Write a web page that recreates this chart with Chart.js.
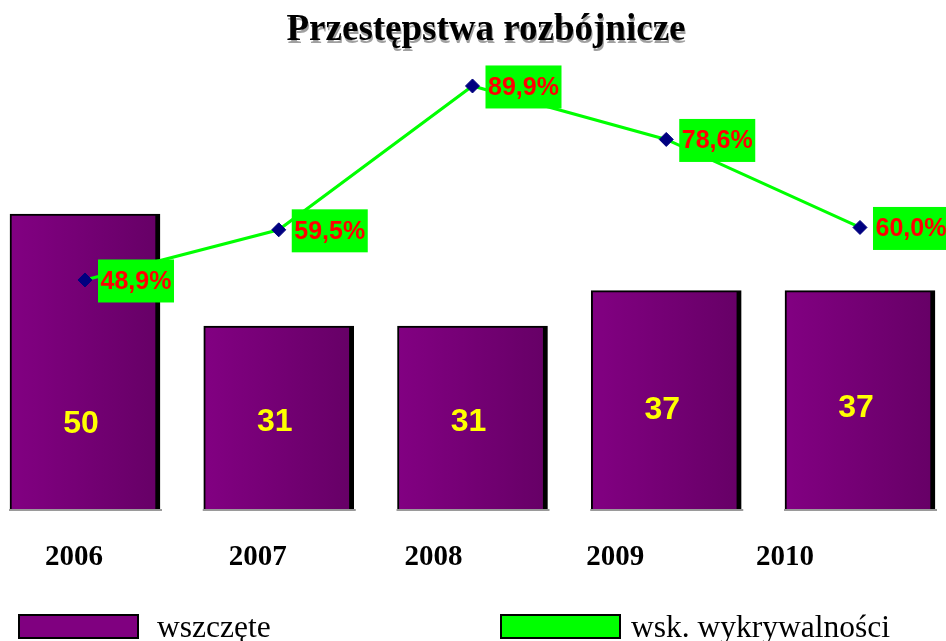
<!DOCTYPE html>
<html>
<head>
<meta charset="utf-8">
<script src="https://cdn.jsdelivr.net/npm/chart.js@4/dist/chart.umd.min.js"></script>
<style>
  html, body { margin: 0; padding: 0; background: #fff; }
  #wrap { width: 946px; height: 641px; position: relative; }
</style>
</head>
<body>
<div id="wrap"><canvas id="cv" width="946" height="641"></canvas></div>
<script>
// data
var years = ['2006', '2007', '2008', '2009', '2010'];
var cases = [50, 31, 31, 37, 37];          // wszczęte
var rates = [48.9, 59.5, 89.9, 78.6, 60.0]; // wsk. wykrywalności (%)

var title = 'Przestępstwa rozbójnicze';
var seriesNames = ['wszczęte', 'wsk. wykrywalności'];

// small layout tweaks (label placement only)
var yearShift = [-12, -22, -40, -52, -76];
var valueLift = [85, 87, 87, 99, 101];

var serif = '"Liberation Serif", "Times New Roman", serif';
var sans = '"Liberation Sans", Arial, sans-serif';

function pct(v) { return v.toFixed(1).replace('.', ',') + '%'; }

function barGradient(ctx) {
  var chart = ctx.chart;
  var xs = chart.scales && chart.scales.x;
  if (!xs || !chart.chartArea) return '#780078';
  var cx = xs.getPixelForValue(ctx.dataIndex);
  var g = chart.ctx.createLinearGradient(cx - 75, 0, cx + 75, 0);
  g.addColorStop(0, '#820082');
  g.addColorStop(1, '#660066');
  return g;
}

var decor = {
  id: 'decor',
  afterDatasetsDraw: function (chart) {
    var c = chart.ctx;
    var bars = chart.getDatasetMeta(1).data;
    var pts = chart.getDatasetMeta(0).data;
    c.save();

    // grey base line under each bar + value labels
    bars.forEach(function (b, i) {
      var half = b.width / 2;
      c.strokeStyle = '#9a9a9a';
      c.lineWidth = 2;
      c.beginPath();
      c.moveTo(b.x - half - 1, b.base + 1);
      c.lineTo(b.x + half + 2, b.base + 1);
      c.stroke();

      c.fillStyle = '#ffff00';
      c.font = 'bold 32px ' + sans;
      c.textAlign = 'center';
      c.textBaseline = 'middle';
      c.fillText(String(cases[i]), b.x - 4, b.base - valueLift[i]);
    });

    // percentage labels on green boxes
    pts.forEach(function (p, i) {
      var bx = p.x + 13, bw = 76, bh = 43;
      var by = p.y + 1 - bh / 2;
      c.fillStyle = '#00ff00';
      c.fillRect(bx, by, bw, bh);
      c.fillStyle = '#ff0000';
      c.font = 'bold 25px ' + sans;
      c.textAlign = 'center';
      c.textBaseline = 'middle';
      c.fillText(pct(rates[i]), bx + bw / 2, by + bh / 2 + 1);
    });

    // year labels
    bars.forEach(function (b, i) {
      c.fillStyle = '#000';
      c.font = 'bold 29px ' + serif;
      c.textAlign = 'center';
      c.textBaseline = 'alphabetic';
      c.fillText(years[i], b.x + yearShift[i] + 1, 565);
    });

    // title with grey drop shadow
    c.font = 'bold 37px ' + serif;
    c.textAlign = 'center';
    c.textBaseline = 'alphabetic';
    c.fillStyle = '#a0a0a0';
    c.fillText(title, 487, 43);
    c.fillStyle = '#000';
    c.fillText(title, 486, 40);

    // legend
    c.lineWidth = 2;
    c.strokeStyle = '#000';
    c.fillStyle = '#800080';
    c.fillRect(19, 615, 119, 23);
    c.strokeRect(19, 615, 119, 23);
    c.fillStyle = '#00ff00';
    c.fillRect(501, 615, 119, 23);
    c.strokeRect(501, 615, 119, 23);
    c.fillStyle = '#000';
    c.font = '31.5px ' + serif;
    c.textAlign = 'left';
    c.fillText(seriesNames[0], 157, 637);
    c.fillText(seriesNames[1], 631, 637);

    c.restore();
  }
};

new Chart(document.getElementById('cv').getContext('2d'), {
  type: 'bar',
  data: {
    datasets: [
      {
        type: 'line',
        label: seriesNames[1],
        data: rates.map(function (v, i) { return { x: i, y: v }; }),
        yAxisID: 'y1',
        order: 0,
        borderColor: '#00ff00',
        borderWidth: 3,
        pointStyle: 'rectRot',
        pointRadius: 7,
        pointBackgroundColor: '#000080',
        pointBorderColor: '#000080',
        pointBorderWidth: 1,
        tension: 0,
        fill: false
      },
      {
        type: 'bar',
        label: seriesNames[0],
        data: cases.map(function (v, i) { return { x: i, y: v }; }),
        yAxisID: 'y',
        order: 1,
        backgroundColor: barGradient,
        borderColor: '#000',
        borderWidth: { left: 2, top: 2, right: 5, bottom: 0 },
        borderSkipped: false,
        barThickness: 150
      }
    ]
  },
  options: {
    responsive: false,
    animation: false,
    layout: { autoPadding: false, padding: { top: 37, bottom: 132, left: 0, right: 0 } },
    plugins: {
      legend: { display: false },
      tooltip: { enabled: false },
      title: { display: false }
    },
    scales: {
      x: { type: 'linear', min: -0.4387, max: 4.4439, offset: false, display: false },
      y: { min: 0, max: 80, display: false },
      y1: { min: 0.5, max: 100.25, display: false, position: 'right' }
    }
  },
  plugins: [decor]
});
</script>
</body>
</html>
